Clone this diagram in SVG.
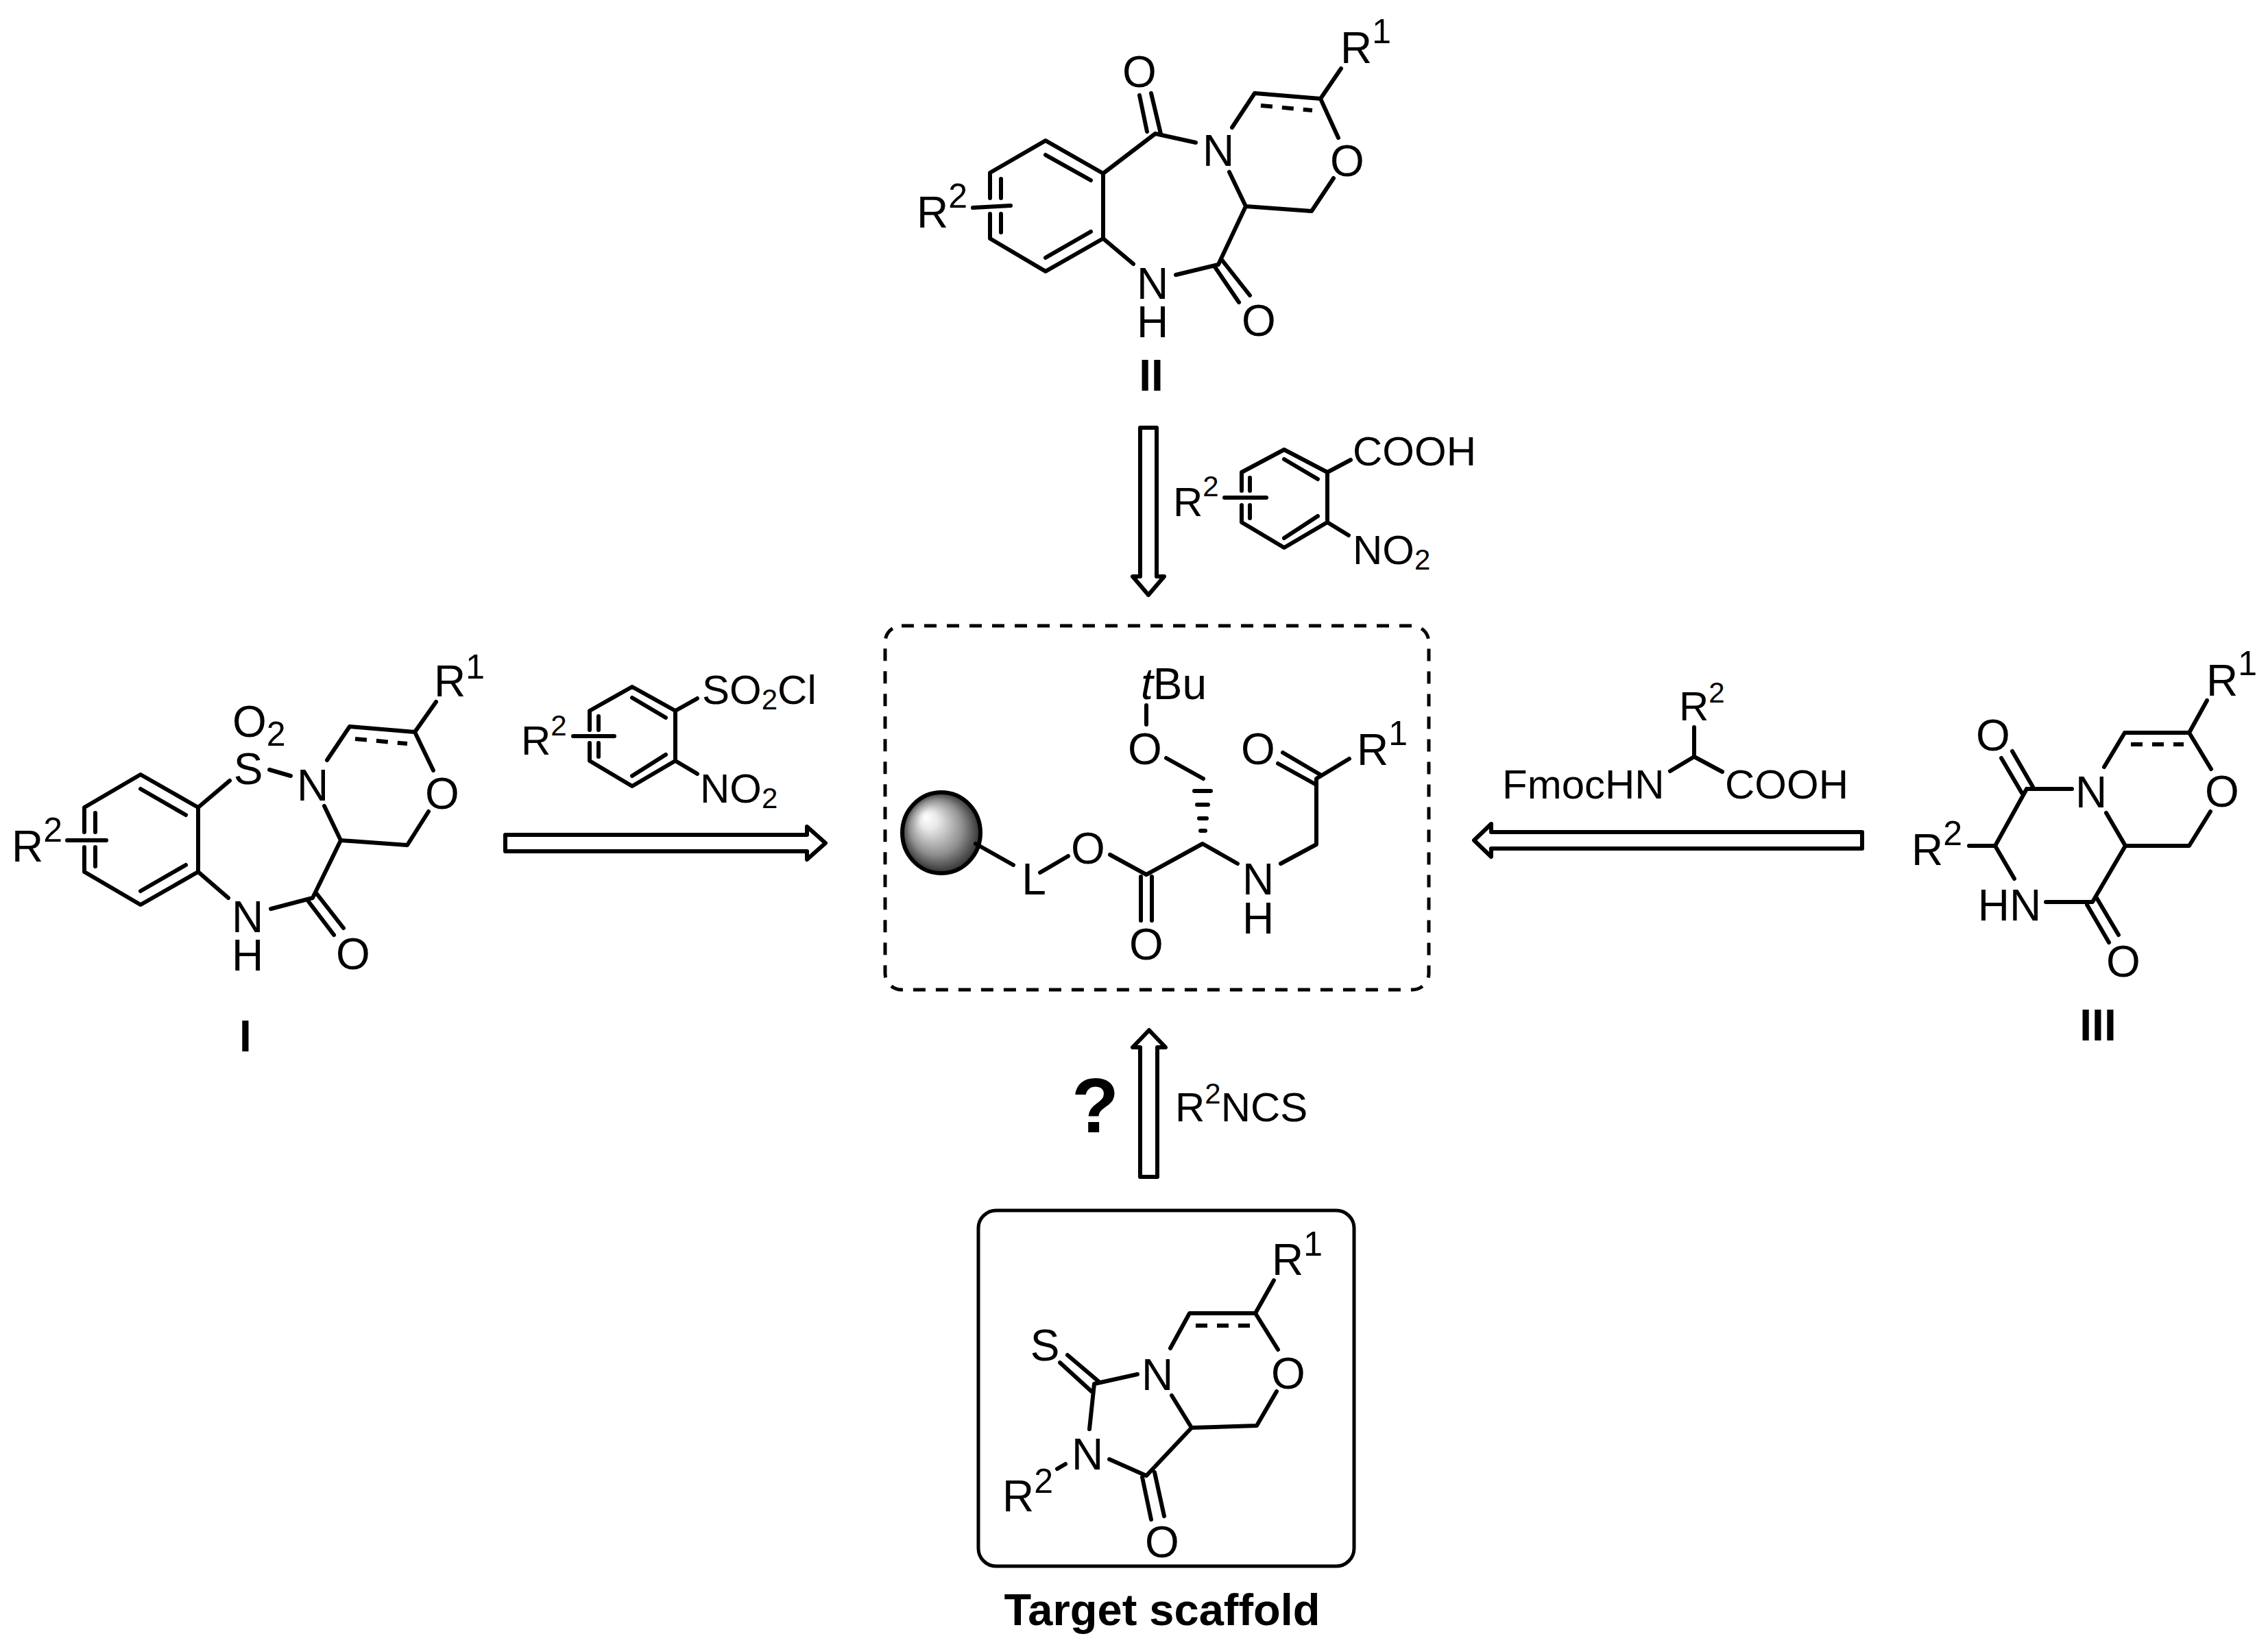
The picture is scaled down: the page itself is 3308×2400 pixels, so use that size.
<svg xmlns="http://www.w3.org/2000/svg" width="3308" height="2400" viewBox="0 0 3308 2400">
<style>
text{font-family:"Liberation Sans",Arial,sans-serif;font-size:64px;fill:#000}
.m{text-anchor:middle}
.b{font-weight:bold;font-size:64px}
.s{font-size:50px}
.r text{font-size:60px}
.r .s{font-size:42px}
.bd path{fill:none;stroke:#000;stroke-width:6;stroke-linecap:round;stroke-linejoin:round}
.d{stroke-dasharray:17 14;stroke-linecap:butt!important}
.arrow{fill:#fff;stroke:#000;stroke-width:6;stroke-linejoin:round}
</style>
<defs>
<radialGradient id="ball" cx="0.52" cy="0.52" r="0.56" fx="0.3" fy="0.3">
<stop offset="0" stop-color="#fff"/><stop offset="0.2" stop-color="#e8e8e8"/><stop offset="0.6" stop-color="#909090"/><stop offset="0.9" stop-color="#303030"/><stop offset="1" stop-color="#111"/>
</radialGradient>
</defs>
<rect width="3308" height="2400" fill="#fff"/>

<g id="connectors">
<polygon class="arrow" points="737,1218 1177,1218 1177,1206 1204,1230 1177,1254 1177,1242 737,1242"/>
<polygon class="arrow" points="1663,624 1687,624 1687,841 1698,841 1675,868 1652,841 1663,841"/>
<polygon class="arrow" points="2716,1214 2175,1214 2175,1202 2150,1226 2175,1250 2175,1238 2716,1238"/>
<polygon class="arrow" points="1663,1717 1688,1717 1688,1528 1700,1528 1676,1503 1652,1528 1663,1528"/>
</g>

<g id="compound-II" class="bd">
<path d="M1444,289V252L1525,205L1609,253V348L1525,396L1444,348V312"/>
<path d="M1525,226L1591,263M1525,376L1591,338M1460,261V289M1460,312V339M1419,303L1474,300"/>
<path d="M1609,253L1685,195M1662,139L1673,192M1679,136L1693,195M1685,195L1744,208M1797,186L1830,136L1926,144L1952,201M1926,144L1956,100M1945,260L1913,308L1817,301L1793,251M1817,301L1777,386L1715,401M1609,348L1653,385M1771,388L1807,441M1782,379L1823,431"/>
<path class="d" d="M1839,154L1914,161"/>
<text x="1337" y="332">R<tspan class="s" dy="-29">2</tspan></text>
<text x="1955" y="92">R<tspan class="s" dy="-29">1</tspan></text>
<text class="m" x="1662" y="127">O</text>
<text class="m" x="1777" y="242">N</text>
<text class="m" x="1965" y="257">O</text>
<text class="m"><tspan x="1681" y="436">N</tspan><tspan x="1681" y="492">H</tspan></text>
<text class="m" x="1836" y="490">O</text>
<text class="m b" x="1679" y="570">II</text>
</g>

<g id="reagent-II" class="bd r">
<path d="M1811,716V689L1873,656L1936,689V762L1873,799L1811,762V737"/>
<path d="M1873,670L1922,699M1873,785L1922,753M1823,697V716M1823,737V756M1786,726H1847M1936,689L1970,671M1936,762L1967,781"/>
<text x="1711" y="753">R<tspan class="s" dy="-29">2</tspan></text>
<text x="1973" y="679">COOH</text>
<text x="1973" y="823">NO<tspan class="s" dy="8">2</tspan></text>
</g>

<g id="compound-I" class="bd">
<path d="M123,1214V1178L205,1130L289,1178V1272L205,1320L123,1272V1236"/>
<path d="M205,1151L271,1189M205,1300L271,1262M139,1186V1214M139,1236V1264M98,1226H155"/>
<path d="M289,1178L335,1139M393,1123L424,1132M477,1109L510,1060L605,1068L632,1124M605,1068L636,1024M625,1184L594,1233L497,1226L473,1176M497,1226L456,1310L395,1326M289,1272L333,1310M449,1314L487,1364M462,1304L501,1354"/>
<path class="d" d="M518,1078L594,1085"/>
<text x="17" y="1257">R<tspan class="s" dy="-29">2</tspan></text>
<text x="633" y="1016">R<tspan class="s" dy="-26">1</tspan></text>
<text class="m" x="362" y="1144">S</text>
<text x="339" y="1075">O<tspan class="s" dy="13">2</tspan></text>
<text class="m" x="456" y="1168">N</text>
<text class="m"><tspan x="361" y="1360">N</tspan><tspan x="361" y="1416">H</tspan></text>
<text class="m" x="645" y="1180">O</text>
<text class="m" x="515" y="1414">O</text>
<text class="m b" x="358" y="1534">I</text>
</g>

<g id="reagent-I" class="bd r">
<path d="M860,1065V1037L922,1002L985,1037V1110L922,1147L860,1110V1084"/>
<path d="M922,1018L971,1047M922,1132L971,1101M873,1045V1065M873,1084V1104M836,1074H896M985,1037L1017,1019M985,1110L1017,1129"/>
<text x="760" y="1101">R<tspan class="s" dy="-28">2</tspan></text>
<text x="1024" y="1027">SO<tspan class="s" dy="8">2</tspan><tspan dy="-8">Cl</tspan></text>
<text x="1021" y="1171">NO<tspan class="s" dy="8">2</tspan></text>
</g>

<g id="resin-intermediate" class="bd">
<rect x="1291" y="913" width="793" height="531" rx="24" ry="24" fill="none" stroke="#000" stroke-width="5" stroke-dasharray="18 15"/>
<ellipse cx="1373" cy="1215" rx="57" ry="59" fill="url(#ball)" stroke="#000" stroke-width="6"/>
<path d="M1423,1231L1478,1262M1517,1273L1558,1249M1619,1247L1672,1276L1754,1231L1805,1260M1664,1279V1343M1680,1279V1343M1868,1260L1920,1232V1136L1968,1107M1920,1145L1864,1114M1927,1131L1871,1098M1672,1029V1057M1701,1106L1755,1136"/>
<path d="M1742,1154H1766M1746,1174H1762M1749,1194H1760M1751,1212H1758" stroke-width="5"/>
<text class="m" x="1508" y="1305">L</text>
<text class="m" x="1587" y="1260">O</text>
<text class="m" x="1672" y="1400">O</text>
<text class="m"><tspan x="1835" y="1305">N</tspan><tspan x="1835" y="1362">H</tspan></text>
<text class="m" x="1835" y="1115">O</text>
<text class="m" x="1670" y="1115">O</text>
<text x="1664" y="1020"><tspan font-style="italic">t</tspan>Bu</text>
<text x="1979" y="1116">R<tspan class="s" dy="-29">1</tspan></text>
</g>

<g id="compound-III" class="bd">
<path d="M2956,1151H3022M2956,1151L2910,1234M2919,1106L2949,1157M2935,1096L2965,1148M2872,1234H2910L2938,1282M2984,1316H3052L3100,1234L3072,1186M3100,1234H3193L3224,1184M3069,1119L3099,1069H3193L3225,1122M3193,1069L3219,1022M3044,1320L3076,1375M3058,1310L3090,1364"/>
<path class="d" d="M3108,1086H3185"/>
<text class="m" x="3050" y="1178">N</text>
<text class="m" x="3241" y="1177">O</text>
<text class="m" x="2907" y="1095">O</text>
<text class="m" x="2931" y="1343">HN</text>
<text class="m" x="3097" y="1425">O</text>
<text x="3218" y="1015">R<tspan class="s" dy="-30">1</tspan></text>
<text x="2788" y="1262">R<tspan class="s" dy="-29">2</tspan></text>
<text class="m b" x="3060" y="1518">III</text>
</g>

<g id="reagent-III" class="bd r">
<path d="M2471,1061V1104M2436,1125L2471,1104L2512,1126"/>
<text x="2449" y="1051">R<tspan class="s" dy="-26">2</tspan></text>
<text x="2191" y="1165">FmocHN</text>
<text x="2516" y="1165">COOH</text>
</g>

<g id="reagent-target" class="r">
<text class="b" style="font-size:113px" x="1563" y="1652">?</text>
<text x="1714" y="1636">R<tspan class="s" dy="-26">2</tspan><tspan dy="26">NCS</tspan></text>
</g>

<g id="target-scaffold" class="bd">
<rect x="1427" y="1766" width="548" height="519" rx="26" ry="26" fill="none" stroke="#000" stroke-width="5"/>
<path d="M1707,1967L1735,1916H1831L1864,1969M1831,1916L1858,1868M1862,2030L1833,2080L1738,2083L1709,2036M1738,2083L1672,2153L1618,2129M1596,2019L1659,2005M1596,2019L1589,2085M1546,1988L1592,2030M1557,1977L1603,2016M1666,2155L1679,2217M1684,2148L1698,2212M1542,2143L1554,2136"/>
<path class="d" d="M1744,1934H1823"/>
<text class="m" x="1688" y="2028">N</text>
<text class="m" x="1879" y="2026">O</text>
<text class="m" x="1524" y="1985">S</text>
<text class="m" x="1586" y="2144">N</text>
<text class="m" x="1695" y="2272">O</text>
<text x="1855" y="1860">R<tspan class="s" dy="-28">1</tspan></text>
<text x="1462" y="2205">R<tspan class="s" dy="-27">2</tspan></text>
<text class="m b" style="font-size:65px" x="1695" y="2371">Target scaffold</text>
</g>
</svg>
